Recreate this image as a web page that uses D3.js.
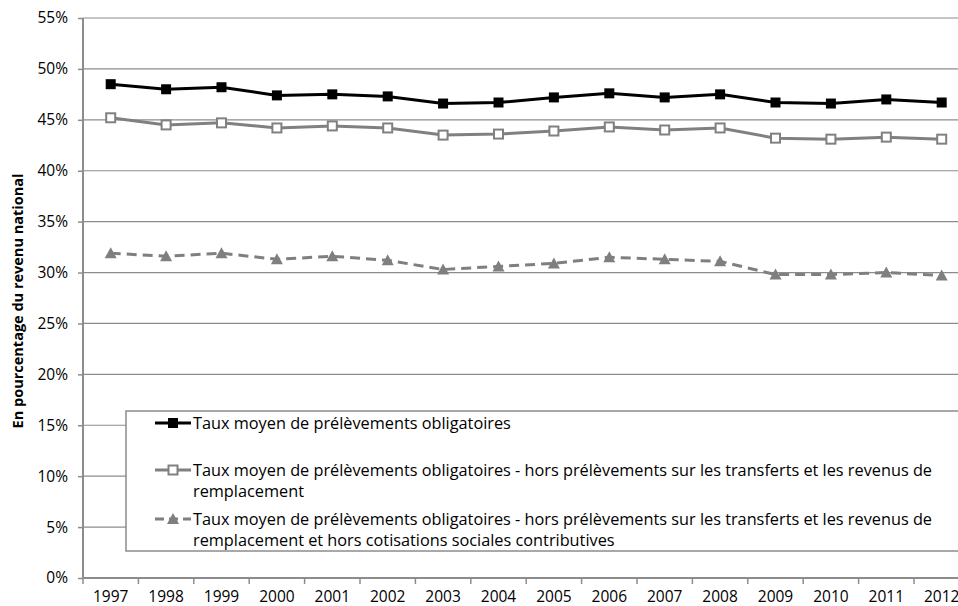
<!DOCTYPE html>
<html>
<head>
<meta charset="utf-8">
<script src="https://cdn.jsdelivr.net/npm/d3@7"></script>
<style>
  html, body { margin: 0; padding: 0; background: #fff; }
  svg { display: block; font-family: "Open Sans", "Liberation Sans", sans-serif; }
</style>
</head>
<body>
<svg id="chart" width="958" height="606"></svg>
<script>
const years = ["1997","1998","1999","2000","2001","2002","2003","2004","2005","2006","2007","2008","2009","2010","2011","2012"];
const tauxPO = [48.5, 48.0, 48.2, 47.4, 47.5, 47.3, 46.6, 46.7, 47.2, 47.6, 47.2, 47.5, 46.7, 46.6, 47.0, 46.7];
const horsTransferts = [45.2, 44.5, 44.7, 44.2, 44.4, 44.2, 43.5, 43.6, 43.9, 44.3, 44.0, 44.2, 43.2, 43.1, 43.3, 43.1];
const horsCotisations = [31.9, 31.6, 31.9, 31.3, 31.6, 31.2, 30.3, 30.6, 30.9, 31.5, 31.3, 31.1, 29.8, 29.8, 30.0, 29.7];
const yTicks = [0, 5, 10, 15, 20, 25, 30, 35, 40, 45, 50, 55];
const legendLines = [
  ["Taux moyen de prélèvements obligatoires"],
  ["Taux moyen de prélèvements obligatoires - hors prélèvements sur les transferts et les revenus de", "remplacement"],
  ["Taux moyen de prélèvements obligatoires - hors prélèvements sur les transferts et les revenus de", "remplacement et hors cotisations sociales contributives"]
];
const yTitle = "En pourcentage du revenu national";

const svg = d3.select("#chart");
const plotLeft = 83, plotTop = 18, plotBottom = 578;
const step = 55.4;

/** scales */
const x = d3.scaleBand().domain(years).range([plotLeft, plotLeft + step * years.length]).padding(0);
const y = d3.scaleLinear().domain([0, 55]).range([plotBottom, plotTop]);
const xc = (d) => x(d) + x.bandwidth() / 2;

/** gridlines */
svg.append("g")
  .selectAll("line")
  .data(yTicks.filter((d) => d > 0))
  .join("line")
  .attr("x1", plotLeft).attr("x2", plotLeft + step * years.length)
  .attr("y1", (d) => y(d)).attr("y2", (d) => y(d))
  .attr("stroke", "#8c8c8c").attr("stroke-width", 1.2);

/** y axis */
const yAxis = svg.append("g")
  .attr("transform", `translate(${plotLeft},0)`)
  .call(d3.axisLeft(y).tickValues(yTicks).tickSize(5).tickPadding(10).tickFormat((d) => d + "%"));
yAxis.select(".domain").attr("stroke", "#8c8c8c").attr("stroke-width", 2).attr("d", `M0,${plotTop}V${plotBottom}`);
yAxis.selectAll(".tick line").attr("stroke", "#8c8c8c").attr("stroke-width", 1.5);
yAxis.selectAll(".tick text").attr("font-size", 15.5).attr("fill", "#000").attr("font-family", "Open Sans");

/** x axis */
const xAxis = svg.append("g").attr("transform", `translate(0,${plotBottom})`);
xAxis.append("line")
  .attr("x1", plotLeft).attr("x2", plotLeft + step * years.length)
  .attr("stroke", "#8c8c8c").attr("stroke-width", 2);
xAxis.selectAll("line.tk")
  .data(years.concat(["end"]))
  .join("line")
  .attr("class", "tk")
  .attr("x1", (d, i) => plotLeft + i * x.step()).attr("x2", (d, i) => plotLeft + i * x.step())
  .attr("y1", 0).attr("y2", 6)
  .attr("stroke", "#8c8c8c").attr("stroke-width", 1.5);
xAxis.selectAll("text")
  .data(years)
  .join("text")
  .attr("x", xc).attr("y", 23.5)
  .attr("text-anchor", "middle")
  .attr("font-size", 15.5)
  .text((d) => d);

/** y title */
svg.append("text")
  .attr("transform", `translate(23,301) rotate(-90)`)
  .attr("text-anchor", "middle")
  .attr("font-size", 14.5)
  .attr("font-weight", "bold")
  .text(yTitle);

/** series */
const series = [
  { data: horsCotisations, color: "#7f7f7f", dash: "10 6", marker: "triangle" },
  { data: horsTransferts, color: "#808080", dash: null, marker: "open" },
  { data: tauxPO, color: "#000", dash: null, marker: "square" }
];

const line = d3.line().x((d, i) => xc(years[i])).y((d) => y(d));

const drawMarker = (g, kind, color, cx, cy) => {
  if (kind === "square")
    g.append("rect").attr("x", cx - 5).attr("y", cy - 5).attr("width", 10).attr("height", 10).attr("fill", color);
  else if (kind === "open")
    g.append("rect").attr("x", cx - 4.5).attr("y", cy - 4.5).attr("width", 9).attr("height", 9)
      .attr("fill", "#fff").attr("stroke", color).attr("stroke-width", 2);
  else
    g.append("path").attr("d", `M${cx},${cy - 6}L${cx + 6},${cy + 5}L${cx - 6},${cy + 5}Z`).attr("fill", color);
};

for (const s of series) {
  svg.append("path")
    .attr("d", line(s.data))
    .attr("fill", "none")
    .attr("stroke", s.color)
    .attr("stroke-width", 3)
    .attr("stroke-dasharray", s.dash);
  const g = svg.append("g");
  s.data.forEach((d, i) => drawMarker(g, s.marker, s.color, xc(years[i]), y(d)));
}

/** legend */
const lg = svg.append("g");
lg.append("rect")
  .attr("x", 126).attr("y", 411).attr("width", 900).attr("height", 140)
  .attr("fill", "#fff").attr("stroke", "#8c8c8c").attr("stroke-width", 1.5);
const legendY = [423, 470, 519];
const legendSeries = [series[2], series[1], series[0]];
legendLines.forEach((lines, k) => {
  const s = legendSeries[k];
  const ly = legendY[k];
  lg.append("line")
    .attr("x1", 155).attr("x2", 191).attr("y1", ly).attr("y2", ly)
    .attr("stroke", s.color).attr("stroke-width", 3)
    .attr("stroke-dasharray", s.dash ? "9 5" : null);
  drawMarker(lg, s.marker, s.color, 173, ly);
  lines.forEach((t, j) => {
    lg.append("text")
      .attr("x", 193).attr("y", ly + 5.5 + j * 21)
      .attr("font-size", 16.3)
      .text(t);
  });
});
</script>
</body>
</html>
